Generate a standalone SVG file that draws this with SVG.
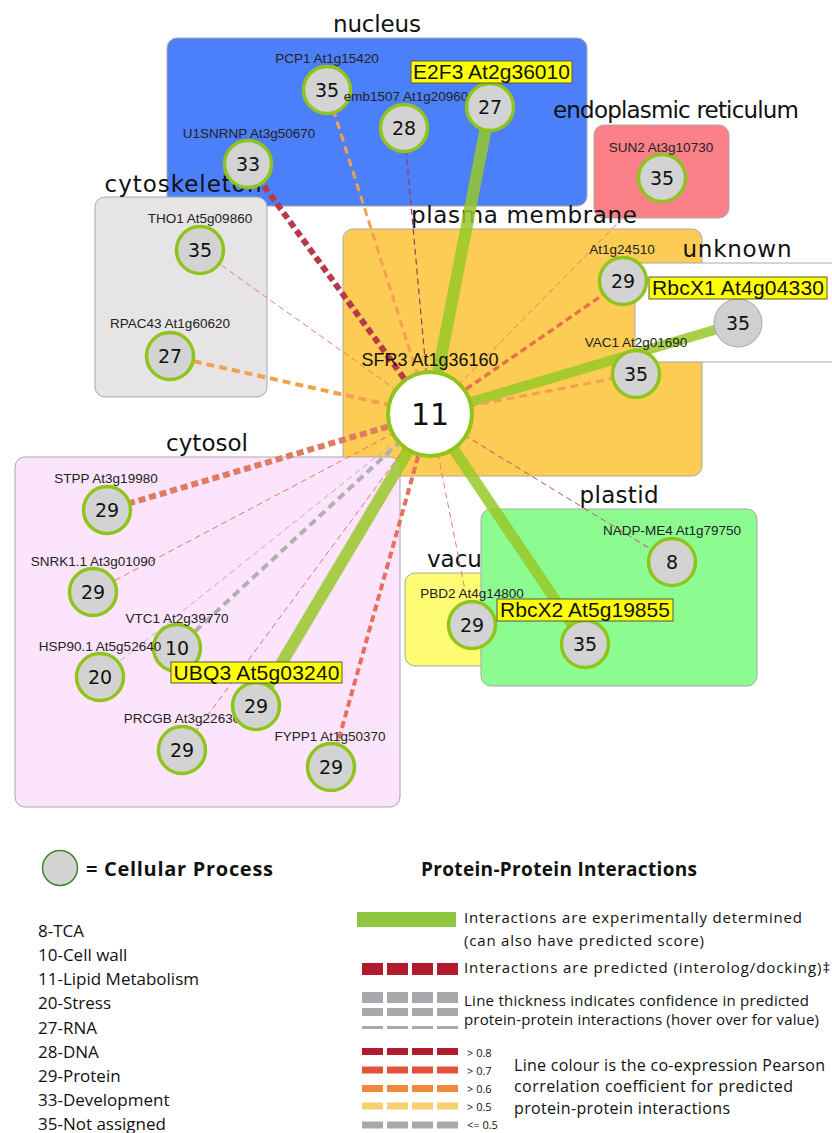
<svg xmlns="http://www.w3.org/2000/svg" width="832" height="1133" viewBox="0 0 832 1133">
<style>
.comp{stroke:#a8a8a8;stroke-width:1}
.clab{font-family:"DejaVu Sans",sans-serif;font-size:23px;fill:#111}
.nl{font-family:"Liberation Sans",Arial,sans-serif;font-size:13.5px;fill:#222;text-anchor:middle}
.num{font-family:"DejaVu Sans",sans-serif;font-size:19px;fill:#111;text-anchor:middle}
.nc{fill:#d3d3d3;stroke:#8fc41a;stroke-width:3.5}
.hb{fill:#ffff00;stroke:#555;stroke-width:1}
.ht{font-family:"Liberation Sans",Arial,sans-serif;font-size:21px;fill:#111}
.g{stroke:#96c828;stroke-opacity:.85;fill:none}
.d{fill:none}
.lg{font-family:"Open Sans",sans-serif;fill:#111}
</style>
<!-- compartments -->
<g id="compartments">
<rect class="comp" x="167" y="38" width="420" height="168" rx="10" fill="#4c7ffa"/>
<rect class="comp" x="594" y="125" width="135" height="93" rx="10" fill="#fb8088"/>
<rect class="comp" x="95" y="197" width="172" height="200" rx="10" fill="#e6e4e4"/>
<rect class="comp" x="343" y="229" width="359" height="247" rx="10" fill="#fdcc55"/>
<rect class="comp" x="635" y="263" width="210" height="99" rx="3" fill="#ffffff"/>
<rect class="comp" x="15" y="457" width="385" height="350" rx="10" fill="#fde4fd"/>
<rect class="comp" x="405" y="573" width="100" height="93" rx="10" fill="#fdfc72"/>
<text class="clab" x="427" y="567">vacu</text>
<rect class="comp" x="481" y="509" width="276" height="177" rx="10" fill="#8cfc91"/>
<text class="clab" x="377" y="32" text-anchor="middle" textLength="88">nucleus</text>
<text class="clab" x="676" y="118" text-anchor="middle" textLength="246">endoplasmic reticulum</text>
<text class="clab" x="183" y="192" text-anchor="middle" textLength="157">cytoskeleton</text>
<text class="clab" x="524" y="223" text-anchor="middle" textLength="226">plasma membrane</text>
<text class="clab" x="737" y="257" text-anchor="middle" textLength="109">unknown</text>
<text class="clab" x="207" y="451" text-anchor="middle" textLength="82">cytosol</text>
<text class="clab" x="619" y="503" text-anchor="middle" textLength="79">plastid</text>
</g>
<!-- connectors -->
<g id="connectors">
<line class="d" x1="430" y1="414" x2="248" y2="164" stroke="#b83a4a" stroke-width="6" stroke-dasharray="7 4"/>
<line class="d" x1="430" y1="414" x2="327" y2="90" stroke="#f5a050" stroke-width="3" stroke-dasharray="8 5"/>
<line class="d" x1="430" y1="414" x2="404" y2="128" stroke="#a8345e" stroke-width="1.2" stroke-dasharray="6 4"/>
<line class="g" x1="430" y1="414" x2="490" y2="107" stroke-width="12"/>
<line class="d" x1="430" y1="414" x2="662" y2="178" stroke="#f07a6a" stroke-width="1" stroke-dasharray="6 4"/>
<line class="d" x1="430" y1="414" x2="623" y2="281" stroke="#e8704a" stroke-width="3.5" stroke-dasharray="7 4"/>
<line class="g" x1="430" y1="414" x2="738" y2="323" stroke-width="10"/>
<line class="d" x1="430" y1="414" x2="636" y2="374" stroke="#f0a050" stroke-width="3" stroke-dasharray="8 5"/>
<line class="d" x1="430" y1="414" x2="200" y2="250" stroke="#f07a6a" stroke-width="1" stroke-dasharray="6 4"/>
<line class="d" x1="430" y1="414" x2="170" y2="356" stroke="#f5a050" stroke-width="4" stroke-dasharray="8 5"/>
<line class="d" x1="430" y1="414" x2="107" y2="510" stroke="#e07a60" stroke-width="6" stroke-dasharray="7 4"/>
<line class="d" x1="430" y1="414" x2="93" y2="592" stroke="#f07060" stroke-width="1" stroke-dasharray="6 4"/>
<line class="d" x1="430" y1="414" x2="177" y2="648" stroke="#b0b0b0" stroke-width="4" stroke-dasharray="8 5"/>
<line class="d" x1="430" y1="414" x2="100" y2="677" stroke="#b0b0b8" stroke-width="1" stroke-dasharray="6 4"/>
<line class="g" x1="430" y1="414" x2="256" y2="706" stroke-width="12"/>
<line class="d" x1="430" y1="414" x2="182" y2="750" stroke="#f07070" stroke-width="1" stroke-dasharray="6 4"/>
<line class="d" x1="430" y1="414" x2="331" y2="767" stroke="#e8705a" stroke-width="4" stroke-dasharray="7 4"/>
<line class="d" x1="430" y1="414" x2="472" y2="625" stroke="#f07a6a" stroke-width="1" stroke-dasharray="6 4"/>
<line class="g" x1="430" y1="414" x2="585" y2="644" stroke-width="11"/>
<line class="d" x1="430" y1="414" x2="672" y2="562" stroke="#c05060" stroke-width="1" stroke-dasharray="6 4"/>
</g>
<!-- nodes -->
<g id="n-PCP1"><circle class="nc" cx="327" cy="90" r="23.5"/><text class="num" x="327" y="97">35</text><text class="nl" x="327" y="63">PCP1 At1g15420</text></g>
<g id="n-emb1507"><circle class="nc" cx="404" cy="128" r="23.5"/><text class="num" x="404" y="135">28</text><text class="nl" x="406" y="101">emb1507 At1g20960</text></g>
<g id="n-U1SNRNP"><circle class="nc" cx="248" cy="164" r="23.5"/><text class="num" x="248" y="171">33</text><text class="nl" x="249" y="138">U1SNRNP At3g50670</text></g>
<g id="n-E2F3"><circle class="nc" cx="490" cy="107" r="23.5"/><text class="num" x="490" y="114">27</text><rect class="hb" x="411" y="61" width="161" height="22"/><text class="ht" x="491.5" y="79" text-anchor="middle" textLength="157">E2F3 At2g36010</text></g>
<g id="n-SUN2"><circle class="nc" cx="662" cy="178" r="23.5"/><text class="num" x="662" y="185">35</text><text class="nl" x="661" y="152">SUN2 At3g10730</text></g>
<g id="n-THO1"><circle class="nc" cx="200" cy="250" r="23.5"/><text class="num" x="200" y="257">35</text><text class="nl" x="200" y="223">THO1 At5g09860</text></g>
<g id="n-RPAC43"><circle class="nc" cx="170" cy="356" r="23.5"/><text class="num" x="170" y="363">27</text><text class="nl" x="170" y="328">RPAC43 At1g60620</text></g>
<g id="n-At1g24510"><circle class="nc" cx="623" cy="281" r="23.5"/><text class="num" x="623" y="288">29</text><text class="nl" x="622" y="254">At1g24510</text></g>
<g id="n-VAC1"><circle class="nc" cx="636" cy="374" r="23.5"/><text class="num" x="636" y="381">35</text><text class="nl" x="636" y="347">VAC1 At2g01690</text></g>
<g id="n-RbcX1"><circle cx="738" cy="323" r="24" fill="#d0d0d0" stroke="#a8a8a8" stroke-width="1"/><text class="num" x="738" y="330">35</text><rect class="hb" x="649" y="277" width="178" height="22"/><text class="ht" x="738" y="295" text-anchor="middle" textLength="172">RbcX1 At4g04330</text></g>
<g id="n-SFR3"><circle cx="430" cy="414" r="42" fill="#ffffff" stroke="#8fc41a" stroke-width="4"/><text x="430" y="425" text-anchor="middle" font-family="DejaVu Sans, sans-serif" font-size="30" fill="#111">11</text><text x="430" y="366" text-anchor="middle" font-family="Liberation Sans, Arial, sans-serif" font-size="18" fill="#111">SFR3 At1g36160</text></g>
<g id="n-STPP"><circle class="nc" cx="107" cy="510" r="23.5"/><text class="num" x="107" y="517">29</text><text class="nl" x="106" y="483">STPP At3g19980</text></g>
<g id="n-SNRK1.1"><circle class="nc" cx="93" cy="592" r="23.5"/><text class="num" x="93" y="599">29</text><text class="nl" x="93" y="566">SNRK1.1 At3g01090</text></g>
<g id="n-VTC1"><circle class="nc" cx="177" cy="648" r="23.5"/><text class="num" x="177" y="655">10</text><text class="nl" x="177" y="623">VTC1 At2g39770</text></g>
<g id="n-HSP90.1"><circle class="nc" cx="100" cy="677" r="23.5"/><text class="num" x="100" y="684">20</text><text class="nl" x="100" y="651">HSP90.1 At5g52640</text></g>
<g id="n-PRCGB"><circle class="nc" cx="182" cy="750" r="23.5"/><text class="num" x="182" y="757">29</text><text class="nl" x="182" y="723">PRCGB At3g22630</text></g>
<g id="n-UBQ3"><circle class="nc" cx="256" cy="706" r="23.5"/><text class="num" x="256" y="713">29</text><rect class="hb" x="171" y="662" width="171" height="21"/><text class="ht" x="256.5" y="680" text-anchor="middle" textLength="166">UBQ3 At5g03240</text></g>
<g id="n-FYPP1"><circle class="nc" cx="331" cy="767" r="23.5"/><text class="num" x="331" y="774">29</text><text class="nl" x="330" y="741">FYPP1 At1g50370</text></g>
<g id="n-PBD2"><circle class="nc" cx="472" cy="625" r="23.5"/><text class="num" x="472" y="632">29</text><text class="nl" x="472" y="598">PBD2 At4g14800</text></g>
<g id="n-NADP-ME4"><circle class="nc" cx="672" cy="562" r="23.5"/><text class="num" x="672" y="569">8</text><text class="nl" x="672" y="535">NADP-ME4 At1g79750</text></g>
<g id="n-RbcX2"><circle class="nc" cx="585" cy="644" r="23.5"/><text class="num" x="585" y="651">35</text><rect class="hb" x="497" y="599" width="176" height="22"/><text class="ht" x="585" y="617" text-anchor="middle" textLength="170">RbcX2 At5g19855</text></g>
<!-- legend -->
<g id="legend-process">
<circle cx="60" cy="868" r="17.5" fill="#d4d4d4" stroke="#3b8a2a" stroke-width="1.5"/>
<text class="lg" x="86" y="876" font-size="20" font-weight="bold" textLength="187">= Cellular Process</text>
<g class="lg" font-size="17">
<text x="38" y="937">8-TCA</text>
<text x="38" y="961">10-Cell wall</text>
<text x="38" y="985">11-Lipid Metabolism</text>
<text x="38" y="1009">20-Stress</text>
<text x="38" y="1034">27-RNA</text>
<text x="38" y="1058">28-DNA</text>
<text x="38" y="1082">29-Protein</text>
<text x="38" y="1106">33-Development</text>
<text x="38" y="1130">35-Not assigned</text>
</g>
</g>
<g id="legend-ppi">
<text class="lg" x="421" y="876" font-size="19" font-weight="bold" textLength="276">Protein-Protein Interactions</text>
<rect x="357" y="912" width="99" height="15" fill="#8dc63f"/>
<line x1="362" y1="969" x2="458" y2="969" stroke="#b01c2e" stroke-width="12" stroke-dasharray="21 4"/>
<line x1="362" y1="997.5" x2="458" y2="997.5" stroke="#a7a9ac" stroke-width="11" stroke-dasharray="21 4"/>
<line x1="362" y1="1012" x2="458" y2="1012" stroke="#a7a9ac" stroke-width="8" stroke-dasharray="21 4"/>
<line x1="362" y1="1027.5" x2="458" y2="1027.5" stroke="#a7a9ac" stroke-width="3" stroke-dasharray="21 4"/>
<line x1="362" y1="1051.5" x2="458" y2="1051.5" stroke="#b01c2e" stroke-width="7" stroke-dasharray="21 4"/>
<line x1="362" y1="1070" x2="458" y2="1070" stroke="#e5503a" stroke-width="7" stroke-dasharray="21 4"/>
<line x1="362" y1="1088.5" x2="458" y2="1088.5" stroke="#f0883a" stroke-width="7" stroke-dasharray="21 4"/>
<line x1="362" y1="1106" x2="458" y2="1106" stroke="#f8d070" stroke-width="7" stroke-dasharray="21 4"/>
<line x1="362" y1="1125" x2="458" y2="1125" stroke="#a7a9ac" stroke-width="7" stroke-dasharray="21 4"/>
<g class="lg" font-size="15">
<text x="464" y="923" textLength="338">Interactions are experimentally determined</text>
<text x="464" y="946" textLength="240">(can also have predicted score)</text>
<text x="464" y="973" textLength="366">Interactions are predicted (interolog/docking)‡</text>
<text x="464" y="1006" textLength="345">Line thickness indicates confidence in predicted</text>
<text x="464" y="1025" textLength="355">protein-protein interactions (hover over for value)</text>
</g>
<g class="lg" font-size="11">
<text x="467" y="1057">&gt; 0.8</text>
<text x="467" y="1075">&gt; 0.7</text>
<text x="467" y="1093">&gt; 0.6</text>
<text x="467" y="1111">&gt; 0.5</text>
<text x="467" y="1129">&lt;= 0.5</text>
</g>
<g class="lg" font-size="16">
<text x="514" y="1071" textLength="311">Line colour is the co-expression Pearson</text>
<text x="514" y="1092" textLength="279">correlation  coefficient for predicted</text>
<text x="514" y="1114" textLength="216">protein-protein interactions</text>
</g>
</g>
</svg>
